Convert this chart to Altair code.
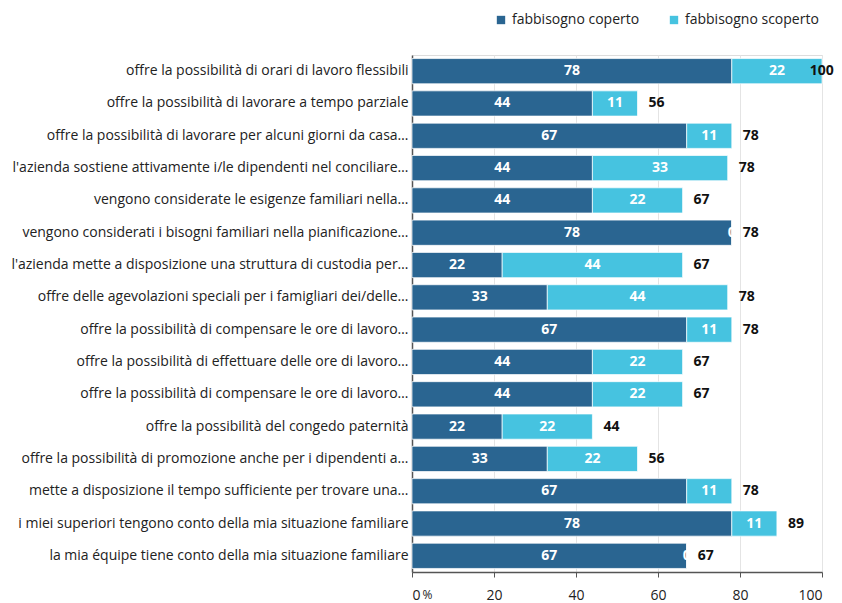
import json
import altair as alt
import pandas as pd

categories = [
    "offre la possibilità di orari di lavoro flessibili",
    "offre la possibilità di lavorare a tempo parziale",
    "offre la possibilità di lavorare per alcuni giorni da casa…",
    "l'azienda sostiene attivamente i/le dipendenti nel conciliare…",
    "vengono considerate le esigenze familiari nella…",
    "vengono considerati i bisogni familiari nella pianificazione…",
    "l'azienda mette a disposizione una struttura di custodia per…",
    "offre delle agevolazioni speciali per i famigliari dei/delle…",
    "offre la possibilità di compensare le ore di lavoro…",
    "offre la possibilità di effettuare delle ore di lavoro…",
    "offre la possibilità di compensare le ore di lavoro…",
    "offre la possibilità del congedo paternità",
    "offre la possibilità di promozione anche per i dipendenti a…",
    "mette a disposizione il tempo sufficiente per trovare una…",
    "i miei superiori tengono conto della mia situazione familiare",
    "la mia équipe tiene conto della mia situazione familiare",
]
coperto = [78, 44, 67, 44, 44, 78, 22, 33, 67, 44, 44, 22, 33, 67, 78, 67]
scoperto = [22, 11, 11, 33, 22, 0, 44, 44, 11, 22, 22, 22, 22, 11, 11, 0]
totale = [100, 56, 78, 78, 67, 78, 67, 78, 78, 67, 67, 44, 56, 78, 89, 67]
series = ["fabbisogno coperto", "fabbisogno scoperto"]
colors = ["#2a6591", "#46c3e0"]

rows = []
for i in range(len(categories)):
    rows.append({"row": i, "serie": series[0], "ord": 0, "value": coperto[i]})
    rows.append({"row": i, "serie": series[1], "ord": 1, "value": scoperto[i]})
df = pd.DataFrame(rows)
tot = pd.DataFrame({"row": list(range(len(categories))), "total": totale,
                    "end": [c + s for c, s in zip(coperto, scoperto)]})

FONT = "Open Sans, sans-serif"
label_expr = json.dumps(categories, ensure_ascii=False) + "[datum.value]"

y = alt.Y("row:O", title=None,
          scale=alt.Scale(paddingInner=0.22, paddingOuter=0.11),
          axis=alt.Axis(labelExpr=label_expr, ticks=False, labelPadding=4,
                        labelFontSize=14, labelFont=FONT, labelColor="#222",
                        labelLimit=500, domainColor="#555", domainWidth=1.5))
xscale = alt.Scale(domain=[0, 100])
xaxis = alt.Axis(values=[0, 20, 40, 60, 80, 100], grid=True, gridColor="#e4e4e4",
                 domainColor="#555", domainWidth=1.5, tickColor="#555", tickSize=5,
                 labelFontSize=14, labelFont=FONT, labelColor="#222", labelPadding=11,
                 title="%", titleFontSize=12, titleFontWeight="normal", titleFont=FONT,
                 titleColor="#222", titleX=15, titleY=26, titleAlign="center",
                 titleBaseline="alphabetic")

base = alt.Chart(df).transform_stack(
    stack="value", groupby=["row"], as_=["x0", "x1"],
    sort=[alt.SortField("ord", order="ascending")]
).transform_calculate(mid="(datum.x0 + datum.x1) / 2")

bars = base.mark_bar(stroke="white", strokeWidth=0.7).encode(
    x=alt.X("x0:Q", scale=xscale, axis=xaxis),
    x2="x1:Q",
    y=y,
    color=alt.Color("serie:N", scale=alt.Scale(domain=series, range=colors),
                    legend=alt.Legend(title=None, orient="none", direction="horizontal",
                                      legendX=82, legendY=-42, symbolType="square",
                                      symbolSize=70, symbolStrokeWidth=0,
                                      labelFontSize=14, labelFont=FONT,
                                      labelColor="#222", columnPadding=27)),
)

seg_text = base.mark_text(color="white", fontWeight="bold", fontSize=14, font=FONT).encode(
    x=alt.X("mid:Q", scale=xscale),
    y=y,
    text=alt.Text("value:Q"),
)

tot_text = alt.Chart(tot).transform_calculate(
    lx="min(datum.end, 94.3)"
).mark_text(align="left", dx=11, color="#111", fontWeight="bold", fontSize=14, font=FONT).encode(
    x=alt.X("lx:Q", scale=xscale),
    y=y,
    text=alt.Text("total:Q"),
)

chart = alt.layer(bars, seg_text, tot_text).properties(
    width=410, height=517,
    autosize=alt.AutoSizeParams(type="none"),
    padding={"left": 404, "top": 47, "right": 12, "bottom": 33},
).configure_view(stroke=None).configure(background="white")

chart.save("out.html", embed_options={"renderer": "svg", "actions": False})
